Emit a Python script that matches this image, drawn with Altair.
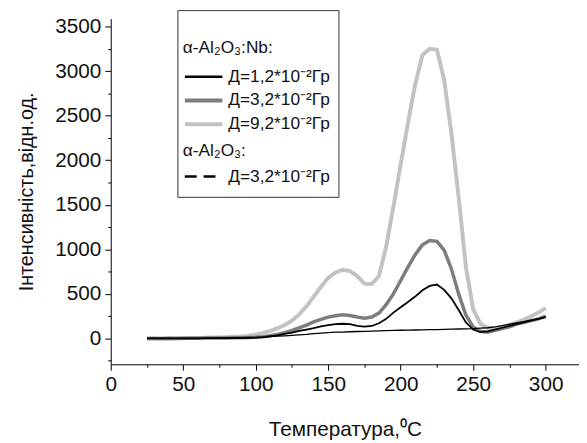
import altair as alt
import pandas as pd

# ---- data ----
temps = list(range(25, 305, 5))

nb_12 = [0, 0, 0, 0, 1, 1, 2, 2, 3, 3, 4, 4, 5, 6, 8, 10, 15, 25, 35, 50,
         65, 85, 100, 115, 135, 150, 160, 165, 160, 142, 132, 140, 170, 220, 290,
         350, 410, 470, 540, 590, 605, 545, 450, 320, 180, 100, 70, 80, 100, 120,
         140, 160, 180, 200, 220, 240]
nb_32 = [0, 0, 0, 2, 0, 2, 3, 3, 4, 5, 5, 6, 7, 8, 10, 14, 20, 30, 45, 65,
         90, 120, 150, 185, 215, 240, 255, 265, 258, 240, 228, 240, 285, 380, 500,
         650, 800, 940, 1050, 1100, 1090, 990, 780, 500, 260, 130, 80, 70, 90, 110,
         130, 160, 180, 200, 220, 250]
nb_92 = [0, 0, -3, 0, 2, 3, 4, 6, 8, 10, 12, 15, 18, 22, 30, 45, 62, 85, 115, 150,
         200, 270, 360, 470, 580, 680, 740, 770, 755, 700, 615, 610, 700, 1030, 1480,
         1950, 2420, 2850, 3180, 3250, 3240, 2900, 2300, 1580, 800, 330, 165, 120, 110, 125,
         150, 180, 210, 250, 290, 340]
pure_32 = [0, 0, 0, 0, 0, 1, 1, 2, 2, 3, 3, 4, 5, 6, 8, 10, 14, 20, 25, 30,
           35, 40, 45, 55, 60, 65, 70, 72, 75, 78, 80, 82, 85, 88, 90, 92, 94, 95, 97, 100,
           100, 102, 104, 106, 108, 110, 115, 120, 130, 145, 160, 175, 190, 205, 220, 240]

series_keys = ["nb92", "nb32", "nb12", "pure32"]
series_values = [nb_92, nb_32, nb_12, pure_32]
legend_labels = ["Д=1,2*10⁻²Гр", "Д=3,2*10⁻²Гр", "Д=9,2*10⁻²Гр", "Д=3,2*10⁻²Гр"]
header_nb = "α-Al₂O₃:Nb:"
header_pure = "α-Al₂O₃:"

x_ticks = list(range(0, 325, 25))
y_ticks = list(range(-250, 3750, 250))

# ---- styles ----
styles = {
    "nb92": dict(color="#c2c2c2", strokeWidth=4),
    "nb32": dict(color="#7d7d7d", strokeWidth=3.5),
    "nb12": dict(color="#000000", strokeWidth=1.8),
    "pure32": dict(color="#000000", strokeWidth=1.3),
}

rows = []
for key, vals in zip(series_keys, series_values):
    for t, v in zip(temps, vals):
        rows.append({"T": t, "I": v, "s": key})
df = pd.DataFrame(rows)

FONT = "Liberation Sans"
x_scale = alt.Scale(domain=[0, 323], nice=False)
y_scale = alt.Scale(domain=[-290, 3590], nice=False)

x_axis = alt.Axis(
    values=x_ticks,
    labelExpr="datum.value % 50 === 0 ? datum.label : ''",
    tickSize={"condition": {"test": "datum.value % 50 === 0", "value": 6}, "value": 3},
    title="Температура,⁰C", grid=False, domainColor="#000", tickColor="#000",
    labelColor="#111", titleColor="#111", labelFont=FONT, titleFont=FONT,
    labelFontSize=21, titleFontSize=21, titleFontWeight="normal",
    labelPadding=4, titlePadding=24, labelFlush=False, labelOverlap=False,
)
y_axis = alt.Axis(
    values=y_ticks,
    labelExpr="datum.value % 500 === 0 ? datum.label : ''",
    tickSize={"condition": {"test": "datum.value % 500 === 0", "value": 6}, "value": 3},
    title="Інтенсивність,відн.од.", grid=False, domainColor="#000", tickColor="#000",
    labelColor="#111", titleColor="#111", labelFont=FONT, titleFont=FONT,
    labelFontSize=21, titleFontSize=20, titleFontWeight="normal",
    labelPadding=4, titlePadding=18, format="d", labelFlush=False, labelOverlap=False,
)

layers = []
for key in series_keys:
    st = styles[key]
    layers.append(
        alt.Chart(df[df.s == key]).mark_line(
            color=st["color"], strokeWidth=st["strokeWidth"], clip=True
        ).encode(
            x=alt.X("T:Q", scale=x_scale, axis=x_axis),
            y=alt.Y("I:Q", scale=y_scale, axis=y_axis),
        )
    )

one = pd.DataFrame({"a": [0]})
box = alt.Chart(one).mark_rect(fill="white", stroke="#333", strokeWidth=1).encode(
    x=alt.value(68), x2=alt.value(231), y=alt.value(-8), y2=alt.value(181)
)
layers.append(box)

def txt(s, x, y, size=17.5):
    return alt.Chart(one).mark_text(
        align="left", baseline="middle", font=FONT, fontSize=size, color="#111"
    ).encode(x=alt.value(x), y=alt.value(y), text=alt.value(s))

def sample(y, color, width, dash=None):
    kw = dict(color=color, strokeWidth=width)
    if dash:
        kw["strokeDash"] = dash
    return alt.Chart(one).mark_rule(**kw).encode(
        x=alt.value(75), x2=alt.value(113), y=alt.value(y)
    )

layers.append(txt(header_nb, 73, 30))
row_y = [59, 83, 107]
row_style = ["nb12", "nb32", "nb92"]
for lab, yy, key in zip(legend_labels[:3], row_y, row_style):
    st = styles[key]
    layers.append(sample(yy, st["color"], 2.5 if key == "nb12" else 4))
    layers.append(txt(lab, 119, yy))
layers.append(txt(header_pure, 73, 134))
layers.append(sample(160, "#000000", 2.5, [12, 7]))
layers.append(txt(legend_labels[3], 119, 160))

chart = alt.layer(*layers).properties(
    width=474, height=350,
    autosize=alt.AutoSizeParams(type="none"),
    padding={"left": 104, "top": 8, "right": 0, "bottom": 76},
).configure_view(stroke=None)

chart.save("out.html", embed_options={"renderer": "svg", "actions": False})
